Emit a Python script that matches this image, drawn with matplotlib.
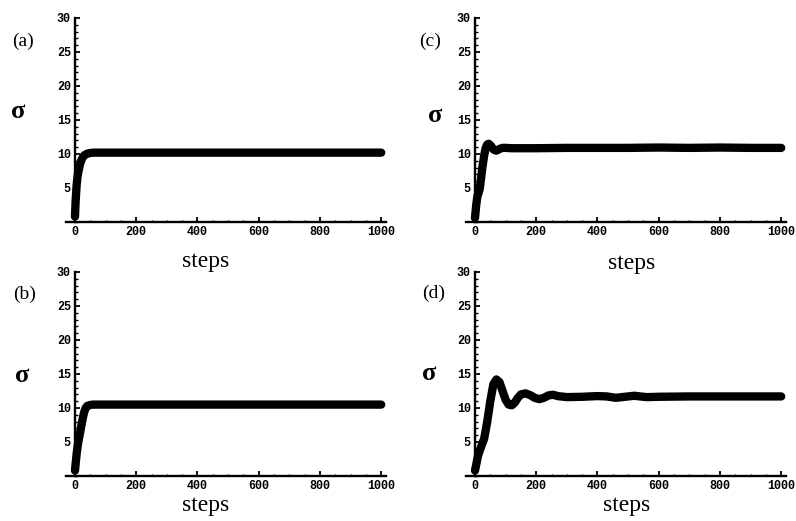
import matplotlib.pyplot as plt
from matplotlib.ticker import MultipleLocator

# values
steps_a = [0, 2, 5, 8, 12, 16, 20, 25, 30, 40, 50, 60, 100, 300, 500, 700, 900, 1000]
sigma_a = [0.8, 3.0, 5.2, 6.6, 7.6, 8.4, 9.0, 9.5, 9.8, 10.05, 10.15, 10.2, 10.2, 10.2, 10.2, 10.2, 10.2, 10.2]

steps_b = [0, 3, 6, 10, 15, 20, 25, 30, 35, 40, 50, 60, 100, 300, 500, 700, 900, 1000]
sigma_b = [0.8, 2.2, 3.5, 4.8, 6.0, 7.2, 8.4, 9.4, 10.0, 10.3, 10.45, 10.5, 10.5, 10.5, 10.5, 10.5, 10.5, 10.5]

steps_c = [0, 4, 8, 12, 16, 20, 25, 30, 35, 40, 45, 50, 55, 60, 65, 70, 75, 80, 90, 100,
           120, 150, 200, 300, 400, 500, 600, 700, 800, 900, 1000]
sigma_c = [0.6, 2.5, 3.8, 4.3, 5.0, 6.5, 8.3, 9.8, 10.9, 11.4, 11.5, 11.3, 11.0, 10.7, 10.55,
           10.5, 10.6, 10.75, 10.9, 10.9, 10.85, 10.85, 10.85, 10.9, 10.9, 10.9, 10.95, 10.9,
           10.95, 10.9, 10.9]

steps_d = [0, 10, 20, 30, 40, 50, 60, 70, 80, 90, 100, 110, 120, 130, 140, 150, 165, 180,
           195, 210, 225, 240, 255, 270, 300, 350, 400, 430, 460, 490, 520, 560, 600, 700,
           800, 900, 1000]
sigma_d = [0.8, 3.0, 4.3, 5.5, 8.0, 11.0, 13.5, 14.2, 13.8, 12.5, 11.2, 10.5, 10.4, 10.8,
           11.5, 12.0, 12.15, 11.9, 11.5, 11.3, 11.5, 11.85, 11.95, 11.75, 11.6, 11.65,
           11.75, 11.7, 11.5, 11.65, 11.8, 11.6, 11.65, 11.7, 11.7, 11.7, 11.7]

panels = [
    # left, bottom (figure px), data, label, label pos, sigma pos, steps pos
    (65.8, 222, steps_a, sigma_a, "(a)", (23, 41), (18, 112), (206, 261)),
    (465.8, 222, steps_c, sigma_c, "(c)", (430, 41), (435, 116), (632, 263)),
    (65.8, 476, steps_b, sigma_b, "(b)", (25, 294), (22, 375), (206, 505)),
    (465.8, 476, steps_d, sigma_d, "(d)", (434, 293), (429, 373), (627, 505)),
]

W, H = 796, 521
fig = plt.figure(figsize=(W / 100, H / 100), dpi=100)

for left, bottom, xs, ys, lab, lab_xy, sig_xy, st_xy in panels:
    ax = fig.add_axes([left / W, (H - bottom) / H, 320 / W, 204 / H])
    ax.plot(xs, ys, color="black", lw=6, solid_capstyle="round", solid_joinstyle="round")
    ax.set_xlim(-30, 1015)
    ax.set_ylim(0, 30)
    ax.spines["left"].set_position(("data", 0))
    ax.spines["right"].set_visible(False)
    ax.spines["top"].set_visible(False)
    for s in ("left", "bottom"):
        ax.spines[s].set_linewidth(1.7)
    ax.set_xticks(range(0, 1001, 200))
    ax.set_yticks(range(5, 31, 5))
    ax.xaxis.set_minor_locator(MultipleLocator(50))
    ax.yaxis.set_minor_locator(MultipleLocator(1))
    ax.tick_params(which="major", direction="in", length=3.5, width=1.3, pad=3)
    ax.tick_params(which="minor", direction="in", length=1.8, width=1.0)
    for t in ax.get_xticklabels() + ax.get_yticklabels():
        t.set_fontfamily("Liberation Mono")
        t.set_fontweight("bold")
        t.set_fontsize(8.5)
    ax.patch.set_alpha(0)

    fig.text(lab_xy[0] / W, 1 - lab_xy[1] / H, lab, ha="center", va="center",
             fontsize=14, family="Liberation Serif")
    fig.text(sig_xy[0] / W, 1 - sig_xy[1] / H, "σ", ha="center", va="center",
             fontsize=19, family="Liberation Serif", fontweight="bold")
    fig.text(st_xy[0] / W, 1 - st_xy[1] / H, "steps", ha="center", va="center",
             fontsize=17, family="Liberation Serif")

fig.savefig("out.png", dpi=100)
